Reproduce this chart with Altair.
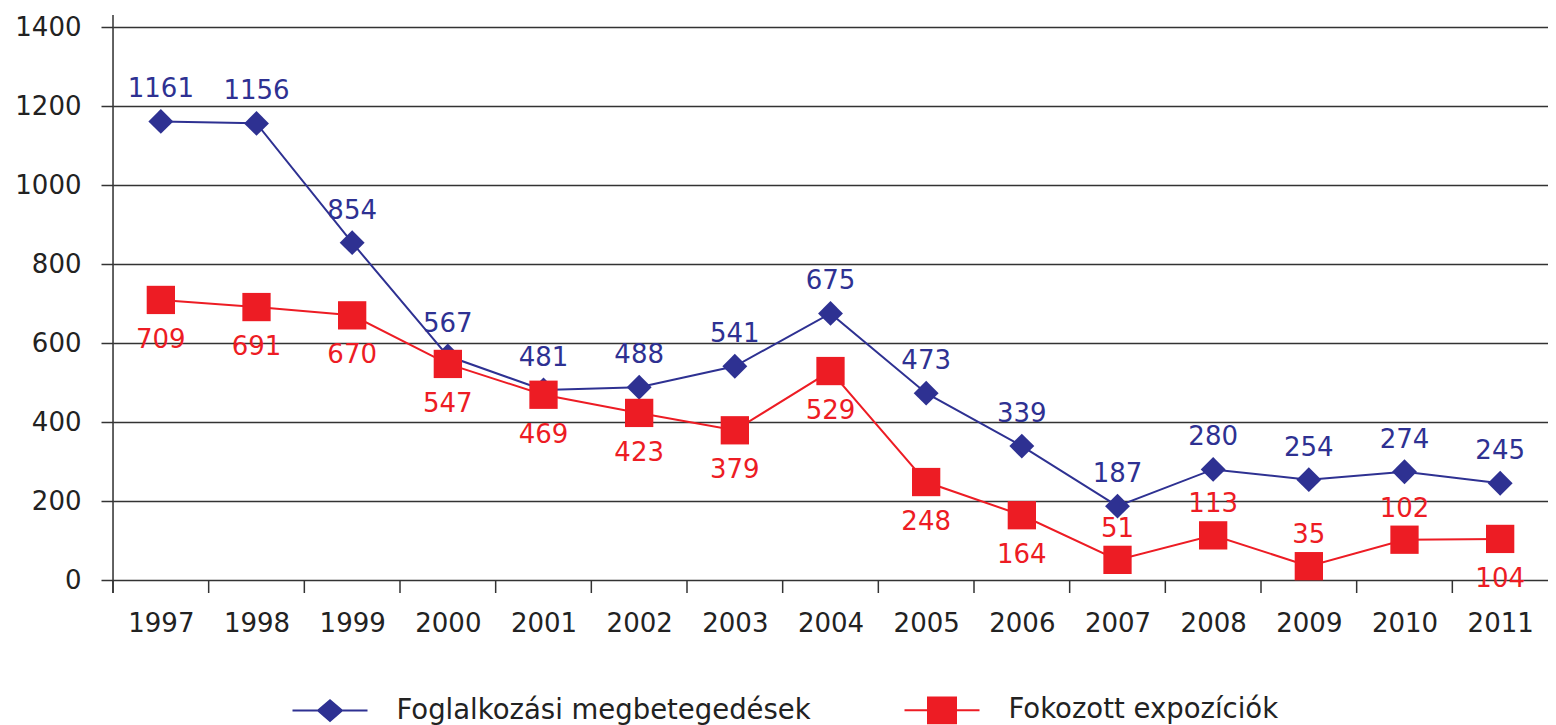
import altair as alt
import pandas as pd

# ---- data ----
years = [1997, 1998, 1999, 2000, 2001, 2002, 2003, 2004, 2005, 2006, 2007, 2008, 2009, 2010, 2011]
series_names = ["Foglalkozási megbetegedések", "Fokozott expozíciók"]
blue_values = [1161, 1156, 854, 567, 481, 488, 541, 675, 473, 339, 187, 280, 254, 274, 245]
red_values = [709, 691, 670, 547, 469, 423, 379, 529, 248, 164, 51, 113, 35, 102, 104]
y_ticks = [0, 200, 400, 600, 800, 1000, 1200, 1400]
red_label_above = [2007, 2008, 2009, 2010]

# ---- style ----
BLUE = "#2E3192"
RED = "#ED1C24"
INK = "#222222"
GRID = "#333333"
FONT = "DejaVu Sans"
FS = 26
W, H = 1435, 553

df_blue = pd.DataFrame({"year": years, "value": blue_values, "series": series_names[0]})
df_red = pd.DataFrame({"year": years, "value": red_values, "series": series_names[1]})
df_red["above"] = df_red["year"].isin(red_label_above)
df_all = pd.concat([df_blue, df_red], ignore_index=True)
# category boundaries (between consecutive years) for the x-axis ticks
boundaries = pd.DataFrame({"year": [y - 0.5 for y in years]})

x_scale = alt.Scale(domain=[years[0] - 0.5, years[-1] + 0.5], nice=False, zero=False)
y_scale = alt.Scale(domain=[0, 1400], nice=False)

x_enc = alt.X(
    "year:Q",
    scale=x_scale,
    axis=alt.Axis(
        values=years, format="d", ticks=False, tickSize=0, domain=False, grid=False,
        labelFontSize=FS, labelFont=FONT, labelColor=INK, labelPadding=30,
        title=None, labelFlush=False,
    ),
)
y_enc = alt.Y(
    "value:Q",
    scale=y_scale,
    axis=alt.Axis(
        values=y_ticks, format="d", grid=True, gridColor=GRID, gridWidth=1.5,
        tickColor=GRID, tickSize=12, tickWidth=1.5, domain=False,
        labelFontSize=FS, labelFont=FONT, labelColor=INK, labelPadding=20,
        title=None,
    ),
)

# boundary ticks of the x axis
xticks = alt.Chart(boundaries).mark_rule(color=GRID, strokeWidth=1.5).encode(
    x=x_enc,
    y=alt.value(H),
    y2=alt.value(H + 13),
)
# vertical axis line (extends slightly beyond plot)
yline = alt.Chart(pd.DataFrame({"a": [0]})).mark_rule(color=GRID, strokeWidth=1.5).encode(
    x=alt.value(0), y=alt.value(-12), y2=alt.value(H + 13)
)

blue_line = alt.Chart(df_blue).mark_line(color=BLUE, strokeWidth=2).encode(x=x_enc, y=y_enc)
blue_pts = alt.Chart(df_blue).mark_point(
    shape="diamond", filled=True, size=620, color=BLUE, opacity=1
).encode(x=x_enc, y=y_enc)
blue_txt = alt.Chart(df_blue).mark_text(
    dy=-32, fontSize=FS, font=FONT, color=BLUE
).encode(x=x_enc, y=y_enc, text="value:Q")

red_line = alt.Chart(df_red).mark_line(color=RED, strokeWidth=2).encode(x=x_enc, y=y_enc)
red_pts = alt.Chart(df_red).mark_point(
    shape="square", filled=True, size=800, color=RED, opacity=1
).encode(x=x_enc, y=y_enc)
red_txt_below = alt.Chart(df_red).transform_filter("!datum.above").mark_text(
    dy=40, fontSize=FS, font=FONT, color=RED
).encode(x=x_enc, y=y_enc, text="value:Q")
red_txt_above = alt.Chart(df_red).transform_filter("datum.above").mark_text(
    dy=-31, fontSize=FS, font=FONT, color=RED
).encode(x=x_enc, y=y_enc, text="value:Q")

# legend-only layer (custom symbols: line with marker)
path_blue = ("M-1,-0.027H-0.3V0.027H-1Z M0.3,-0.027H1V0.027H0.3Z "
             "M-0.36,0L0,-0.31L0.36,0L0,0.31Z")
path_red = ("M-1,-0.027H-0.35V0.027H-1Z M0.35,-0.027H1V0.027H0.35Z "
            "M-0.4,-0.37H0.4V0.37H-0.4Z")
leg = alt.Legend(
    orient="none", legendX=179.5, legendY=645.5, direction="horizontal", title=None,
    symbolSize=5625, symbolStrokeWidth=0, labelFontSize=27.5, labelFont=FONT,
    labelColor=INK, labelOffset=29, columnPadding=93, padding=0, labelLimit=1000,
)
legend_layer = alt.Chart(df_all).transform_filter("false").mark_point(
    filled=True, opacity=1
).encode(
    color=alt.Color("series:N", scale=alt.Scale(domain=series_names, range=[BLUE, RED]), legend=leg),
    shape=alt.Shape("series:N", scale=alt.Scale(domain=series_names, range=[path_blue, path_red]), legend=leg),
)

chart = alt.layer(
    blue_line, red_line, blue_pts, red_pts, xticks, yline,
    blue_txt, red_txt_below, red_txt_above, legend_layer,
).properties(
    width=W, height=H,
    autosize=alt.AutoSizeParams(type="none"),
    padding={"left": 105, "top": 19, "right": 0, "bottom": 145},
).configure_view(strokeWidth=0).configure(font=FONT)

chart.save("out.html", embed_options={"renderer": "svg", "actions": False})
